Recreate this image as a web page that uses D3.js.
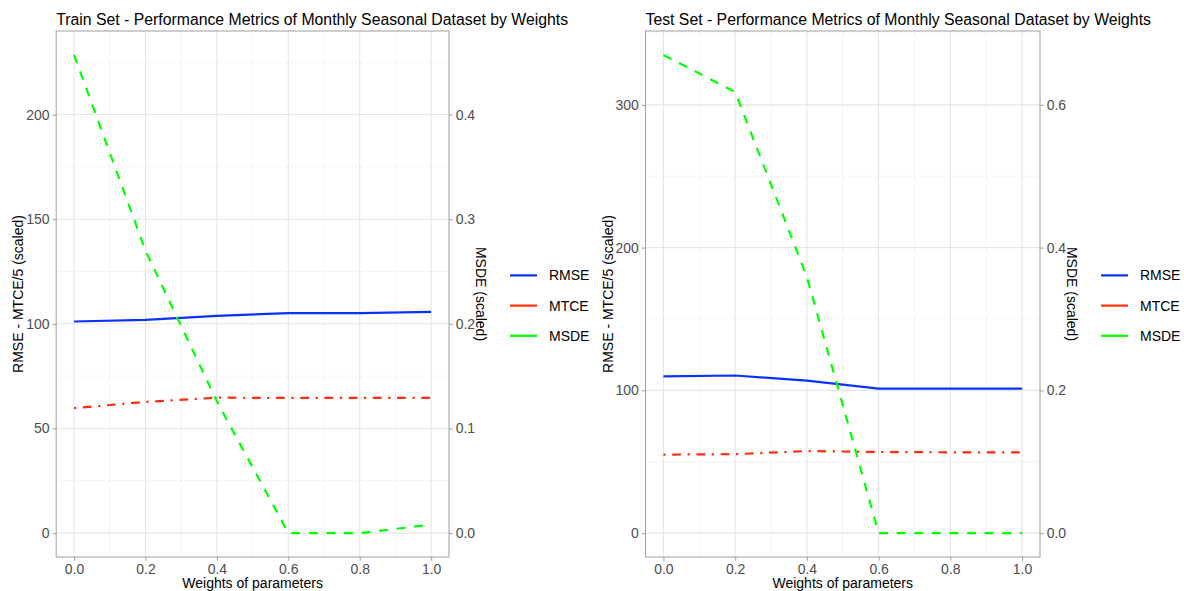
<!DOCTYPE html>
<html>
<head>
<meta charset="utf-8">
<script src="https://cdn.jsdelivr.net/npm/d3@7"></script>
<style>
  html, body { margin: 0; padding: 0; background: #ffffff; }
  svg { display: block; font-family: "Liberation Sans", Arial, Helvetica, sans-serif; }
</style>
</head>
<body>
<svg id="chart" width="1184" height="591"></svg>
<script>
// Parameter weights on the x axis
const weights = [0.0, 0.2, 0.4, 0.6, 0.8, 1.0];

// Train set metrics (RMSE and MTCE on the primary axis, MSDE on the secondary axis)
const trainRMSE = [101.1, 101.9, 103.8, 105.1, 105.1, 105.7];
const trainMTCE = [59.7, 62.7, 64.7, 64.6, 64.6, 64.6];
const trainMSDE = [0.457, 0.270, 0.126, 0.000, 0.000, 0.008];

// Test set metrics
const testRMSE = [109.8, 110.4, 106.8, 101.2, 101.2, 101.2];
const testMTCE = [55.0, 55.3, 57.5, 56.8, 56.6, 56.5];
const testMSDE = [0.670, 0.618, 0.359, 0.000, 0.000, 0.000];

// MSDE is drawn on the primary scale after multiplying by this factor
const msdeFactor = 500;

// Tick labels
const xTicks = [0.0, 0.2, 0.4, 0.6, 0.8, 1.0];
const trainLeftTicks = [0, 50, 100, 150, 200];
const trainRightTicks = [0.0, 0.1, 0.2, 0.3, 0.4];
const testLeftTicks = [0, 100, 200, 300];
const testRightTicks = [0.0, 0.2, 0.4, 0.6];

const seriesNames = ["RMSE", "MTCE", "MSDE"];
const colors = { RMSE: "#0a32ff", MTCE: "#ff2d0a", MSDE: "#00ff00" };
const dashes = { RMSE: null, MTCE: "2.2,6.6,8.8,6.6", MSDE: "8.8,8.8" };

const svg = d3.select("#chart");

function drawPanel(cfg) {
  const { left, right, top, bottom } = cfg.box;
  const g = svg.append("g");

  const x = d3.scaleLinear().domain([-0.05, 1.05]).range([left, right]);

  const all = cfg.rmse.concat(cfg.mtce, cfg.msde.map(v => v * msdeFactor));
  const lo = d3.min(all), hi = d3.max(all), pad = (hi - lo) * 0.05;
  const y = d3.scaleLinear().domain([lo - pad, hi + pad]).range([bottom, top]);
  const y2 = d3.scaleLinear().domain(y.domain().map(v => v / msdeFactor)).range([bottom, top]);

  // minor grid
  const xMinor = d3.range(0.1, 1.0, 0.2);
  const step = cfg.leftTicks[1] - cfg.leftTicks[0];
  const yMinor = d3.range(-step / 2, cfg.leftTicks[cfg.leftTicks.length - 1] + step, step)
    .filter(v => v > y.domain()[0] && v < y.domain()[1]);
  g.selectAll(".xminor").data(xMinor).join("line")
    .attr("x1", d => x(d)).attr("x2", d => x(d)).attr("y1", top).attr("y2", bottom)
    .attr("stroke", "#f2f2f2").attr("stroke-width", 0.8);
  g.selectAll(".yminor").data(yMinor).join("line")
    .attr("x1", left).attr("x2", right).attr("y1", d => y(d)).attr("y2", d => y(d))
    .attr("stroke", "#f2f2f2").attr("stroke-width", 0.8);

  // major grid
  g.selectAll(".xmajor").data(xTicks).join("line")
    .attr("x1", d => x(d)).attr("x2", d => x(d)).attr("y1", top).attr("y2", bottom)
    .attr("stroke", "#e6e6e6").attr("stroke-width", 1.1);
  g.selectAll(".ymajor").data(cfg.leftTicks).join("line")
    .attr("x1", left).attr("x2", right).attr("y1", d => y(d)).attr("y2", d => y(d))
    .attr("stroke", "#e6e6e6").attr("stroke-width", 1.1);

  // clip lines to the panel
  const clipId = "clip-" + cfg.id;
  svg.append("clipPath").attr("id", clipId).append("rect")
    .attr("x", left).attr("y", top).attr("width", right - left).attr("height", bottom - top);

  const line = d3.line().x(d => x(d[0])).y(d => y(d[1]));
  const series = {
    RMSE: weights.map((w, i) => [w, cfg.rmse[i]]),
    MTCE: weights.map((w, i) => [w, cfg.mtce[i]]),
    MSDE: weights.map((w, i) => [w, cfg.msde[i] * msdeFactor])
  };
  const lines = g.append("g").attr("clip-path", `url(#${clipId})`);
  seriesNames.forEach(name => {
    lines.append("path").datum(series[name])
      .attr("d", line)
      .attr("fill", "none")
      .attr("stroke", colors[name])
      .attr("stroke-width", 2.2)
      .attr("stroke-dasharray", dashes[name])
      .attr("stroke-linejoin", "round");
  });

  // panel border
  g.append("rect").attr("x", left).attr("y", top)
    .attr("width", right - left).attr("height", bottom - top)
    .attr("fill", "none").attr("stroke", "#a6a6a6").attr("stroke-width", 1.1);

  const tickColor = "#a6a6a6", textColor = "#4d4d4d", tickLen = 3.7;

  // bottom axis
  const xAxis = d3.axisBottom(x).tickValues(xTicks).tickFormat(d3.format(".1f"))
    .tickSize(tickLen).tickPadding(3);
  const gx = g.append("g").attr("transform", `translate(0,${bottom})`).call(xAxis);
  // left axis
  const yAxis = d3.axisLeft(y).tickValues(cfg.leftTicks).tickFormat(d3.format("d"))
    .tickSize(tickLen).tickPadding(3);
  const gy = g.append("g").attr("transform", `translate(${left},0)`).call(yAxis);
  // right (secondary) axis
  const y2Axis = d3.axisRight(y2).tickValues(cfg.rightTicks).tickFormat(d3.format(".1f"))
    .tickSize(tickLen).tickPadding(3);
  const gy2 = g.append("g").attr("transform", `translate(${right},0)`).call(y2Axis);

  [gx, gy, gy2].forEach(a => {
    a.select(".domain").remove();
    a.selectAll(".tick line").attr("stroke", tickColor).attr("stroke-width", 1.1);
    a.selectAll(".tick text").attr("fill", textColor).style("font-size", "14px")
      .style("font-family", "'Liberation Sans', Arial, sans-serif");
  });

  // titles
  g.append("text").attr("x", left).attr("y", 24.5)
    .attr("fill", "#000").style("font-size", "15.8px").text(cfg.title);
  g.append("text").attr("x", (left + right) / 2).attr("y", 588)
    .attr("text-anchor", "middle").attr("fill", "#000").style("font-size", "14px")
    .text("Weights of parameters");
  const midY = (top + bottom) / 2;
  g.append("text")
    .attr("transform", `translate(${left - 38},${midY}) rotate(-90)`)
    .attr("text-anchor", "middle").attr("dominant-baseline", "central")
    .attr("fill", "#000").style("font-size", "14px")
    .text("RMSE - MTCE/5 (scaled)");
  g.append("text")
    .attr("transform", `translate(${right + 32},${midY}) rotate(90)`)
    .attr("text-anchor", "middle").attr("dominant-baseline", "central")
    .attr("fill", "#000").style("font-size", "14px")
    .text("MSDE (scaled)");

  // legend
  const lg = g.append("g").attr("transform", `translate(${right + 61},275.4)`);
  seriesNames.forEach((name, i) => {
    const row = lg.append("g").attr("transform", `translate(0,${i * 30.2})`);
    row.append("line").attr("x1", 0).attr("x2", 27).attr("y1", 0).attr("y2", 0)
      .attr("stroke", colors[name]).attr("stroke-width", 2.2);
    row.append("text").attr("x", 39).attr("y", 0).attr("dominant-baseline", "central")
      .attr("fill", "#000").style("font-size", "14px").text(name);
  });
}

drawPanel({
  id: "train",
  title: "Train Set - Performance Metrics of Monthly Seasonal Dataset by Weights",
  box: { left: 56.2, right: 449, top: 31, bottom: 557 },
  rmse: trainRMSE, mtce: trainMTCE, msde: trainMSDE,
  leftTicks: trainLeftTicks, rightTicks: trainRightTicks
});

drawPanel({
  id: "test",
  title: "Test Set - Performance Metrics of Monthly Seasonal Dataset by Weights",
  box: { left: 645.5, right: 1040, top: 31, bottom: 557 },
  rmse: testRMSE, mtce: testMTCE, msde: testMSDE,
  leftTicks: testLeftTicks, rightTicks: testRightTicks
});
</script>
</body>
</html>
